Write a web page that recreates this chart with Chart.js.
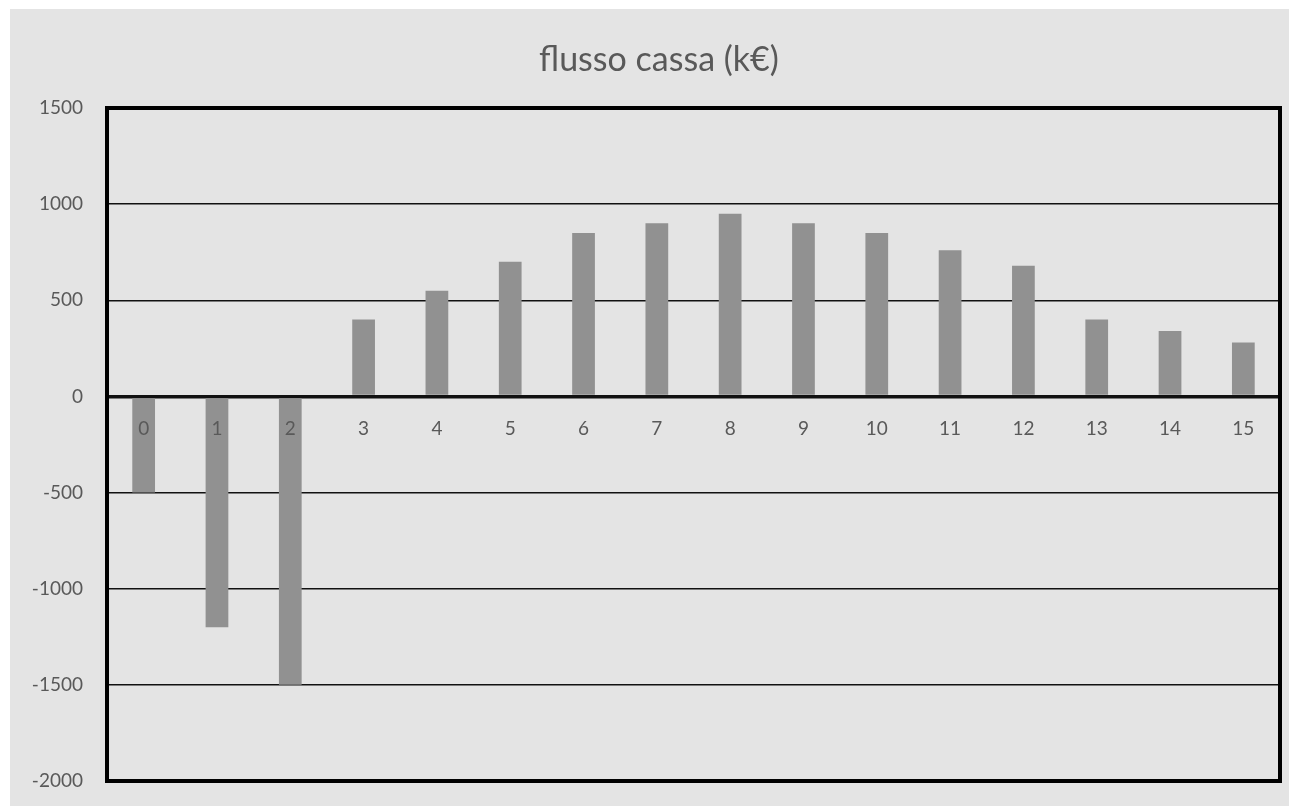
<!DOCTYPE html>
<html>
<head>
<meta charset="utf-8">
<script src="https://cdn.jsdelivr.net/npm/chart.js@4.4.1/dist/chart.umd.min.js"></script>
<style>
  html, body { margin: 0; padding: 0; background: #ffffff; }
  #wrap { position: absolute; left: 10px; top: 9px; width: 1279px; height: 797px; background: #e4e4e4; }
  canvas { display: block; }
</style>
</head>
<body>
<div id="wrap"><canvas id="c" width="1279" height="797"></canvas></div>
<script>
// Anni di progetto
const years = ['0','1','2','3','4','5','6','7','8','9','10','11','12','13','14','15'];
// Flusso di cassa annuo in k€
const cashFlow = [-500, -1200, -1500, 400, 550, 700, 850, 900, 950, 900, 850, 760, 680, 400, 340, 280];
// Scala dell'asse verticale
const yMin = -2000;
const yMax = 1500;
const yStep = 500;
const chartTitle = 'flusso cassa (k€)';

const textColor = '#595959';
const fontFamily = 'Lato, "Open Sans", "Liberation Sans", sans-serif';

// Cornice spessa attorno all'area del grafico e titolo
const frame = {
  id: 'frame',
  afterDraw(chart) {
    const a = chart.chartArea;
    const ctx = chart.ctx;
    ctx.save();
    ctx.strokeStyle = '#000000';
    ctx.lineWidth = 4;
    ctx.strokeRect(a.left, a.top, a.right - a.left, a.bottom - a.top);
    ctx.fillStyle = textColor;
    ctx.font = '34px ' + fontFamily;
    ctx.textAlign = 'center';
    ctx.textBaseline = 'middle';
    ctx.fillText(chartTitle, 649, 51);
    ctx.restore();
  }
};

new Chart(document.getElementById('c'), {
  type: 'bar',
  data: {
    labels: years,
    datasets: [{
      data: cashFlow,
      backgroundColor: '#919191',
      borderWidth: 0,
      categoryPercentage: 1,
      barPercentage: 0.31
    }]
  },
  options: {
    responsive: false,
    animation: false,
    devicePixelRatio: 1,
    layout: { padding: { left: 0, right: 9, top: 99, bottom: 25 } },
    plugins: {
      legend: { display: false },
      tooltip: { enabled: false },
      title: { display: false }
    },
    scales: {
      x: {
        position: { y: 0 },
        grid: { display: false, drawTicks: false },
        border: { display: false },
        ticks: {
          z: 1,
          color: textColor,
          font: { family: fontFamily, size: 19 },
          padding: 21,
          maxRotation: 0
        },
        afterFit(scale) { scale.height = 0; }
      },
      y: {
        min: yMin,
        max: yMax,
        grid: {
          color: '#111111',
          lineWidth: (c) => (c.tick && c.tick.value === 0 ? 3.5 : 1.5),
          drawTicks: false
        },
        border: { display: false },
        ticks: {
          stepSize: yStep,
          color: textColor,
          font: { family: fontFamily, size: 19 },
          padding: 24,
          callback: (v) => String(v)
        },
        afterFit(scale) {
          scale.width = 97;
          scale.paddingTop = 0;
          scale.paddingBottom = 0;
        }
      }
    }
  },
  plugins: [frame]
});
</script>
</body>
</html>
